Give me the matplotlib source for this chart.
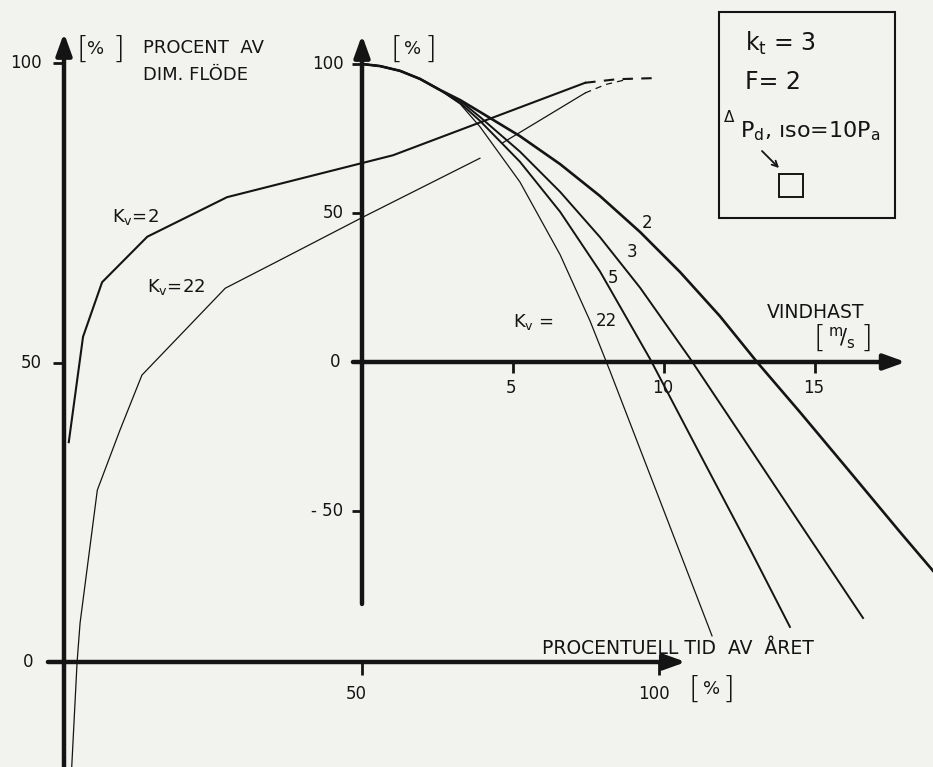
import numpy as np
import matplotlib.pyplot as plt
from matplotlib.patches import Rectangle

plt.rcParams['font.family'] = 'DejaVu Sans'

# left diagram: percent of design flow over percent of the year
kv2_time = [0.8, 3.2, 6.4, 14.0, 27.4, 55.3, 87.6]
kv2_flow = [36.7, 54.3, 63.4, 71.0, 77.6, 84.6, 96.7]
kv2_dash_time = [87.6, 93.0, 100.0]
kv2_dash_flow = [96.7, 97.3, 97.5]

kv22_time = [1.3, 2.2, 2.7, 5.6, 9.4, 13.1, 27.1, 36.3, 50.3, 69.9, 71.8, 73.6, 87.6]
kv22_flow = [-17.5, 0.0, 6.5, 28.7, 38.7, 47.9, 62.4, 67.1, 74.3, 84.1, np.nan, 86.6, 95.0]
kv22_dash_time = [87.6, 91.0, 95.2]
kv22_dash_flow = [95.0, 96.4, 97.4]

# right diagram: percent of flow over wind speed, one curve per K_v
kv_values = ['2', '3', '5', '22']
speed_start = [0, 0.6, 1.26, 1.92, 2.58]
flow_start = [100, 99.3, 97.7, 95.0, 91.3]

speed_kv2 = [3.25, 3.91, 5.23, 6.56, 7.88, 9.21, 10.53, 11.85, 13.08, 14.50,
             16.16, 17.81, 18.91]
flow_kv2 = [87.9, 83.9, 75.8, 66.4, 55.7, 43.6, 30.2, 15.4, 0.0, -16.8,
            -36.9, -57.0, -70.1]
speed_kv3 = [3.25, 3.91, 5.23, 6.56, 7.88, 9.21, 10.86, 12.52, 14.50, 16.59]
flow_kv3 = [87.6, 82.2, 70.6, 57.1, 41.9, 24.9, 1.2, -24.0, -54.2, -85.9]
speed_kv5 = [3.25, 3.91, 5.23, 6.56, 7.88, 9.54, 11.19, 12.85, 14.17]
flow_kv5 = [86.9, 80.9, 67.2, 50.4, 30.4, 1.0, -30.9, -62.8, -88.9]
speed_kv22 = [3.25, 3.91, 5.23, 6.56, 7.55, 8.21, 9.87, 11.59]
flow_kv22 = [86.6, 78.9, 60.4, 36.0, 13.8, -3.0, -46.6, -91.9]

left_yticks = [0, 50, 100]
left_xticks = [50, 100]
right_yticks = [-50, 0, 50, 100]
right_xticks = [5, 10, 15]

INK = '#141414'
W, H = 933, 767

fig = plt.figure(figsize=(W / 100, H / 100), dpi=100)
fig.patch.set_facecolor('#f2f2ef')


def frame(x0, sx, y0, sy):
    # axes spanning the page, origin at pixel (x0, y0), sx/sy pixels per unit
    ax = fig.add_axes([0, 0, 1, 1])
    ax.set_xlim(-x0 / sx, (W - x0) / sx)
    ax.set_ylim(-(H - y0) / sy, y0 / sy)
    ax.axis('off')
    ax.patch.set_alpha(0)
    return ax


def arrow_axis(ax, start, tip):
    ax.annotate('', xy=tip, xytext=start,
                arrowprops=dict(arrowstyle='-|>,head_length=1.3,head_width=0.47',
                                mutation_scale=10, lw=3.2, color=INK,
                                shrinkA=0, shrinkB=0))


ax_l = frame(64, 5.95, 662, 5.99)
ax_r = frame(362, 30.2, 362, 2.98)
page = fig.add_axes([0, 0, 1, 1])
page.set_xlim(0, W)
page.set_ylim(H, 0)
page.axis('off')
page.patch.set_alpha(0)

# ---- left diagram ----
arrow_axis(ax_l, (0, -19), (0, 105.0))
arrow_axis(ax_l, (-2.7, 0), (104.5, 0))
for v in left_yticks[1:]:
    ax_l.plot([-1.9, 0], [v, v], color=INK, lw=2, solid_capstyle='butt')
    ax_l.text(-3.8, v, str(v), fontsize=12, ha='right', va='center', color=INK)
ax_l.text(-5.2, 0, '0', fontsize=12, ha='right', va='center', color=INK)
for v in left_xticks:
    ax_l.plot([v, v], [0, -2.2], color=INK, lw=2, solid_capstyle='butt')
    ax_l.text(v - 0.8, -5.3, str(v), fontsize=12, ha='center', va='center', color=INK)

ax_l.plot(kv2_time, kv2_flow, color=INK, lw=1.5)
ax_l.plot(kv2_dash_time, kv2_dash_flow, color=INK, lw=1.5, dashes=(5, 4))
ax_l.plot(kv22_time, kv22_flow, color=INK, lw=0.9)
ax_l.plot(kv22_dash_time, kv22_dash_flow, color=INK, lw=0.9, dashes=(5, 4))

ax_l.text(8.0, 74.3, r'K$_\mathregular{v}$=2', fontsize=13, va='center', color=INK)
ax_l.text(14.0, 62.6, r'K$_\mathregular{v}$=22', fontsize=13, va='center', color=INK)

# ---- right diagram ----
arrow_axis(ax_r, (0, -81.2), (0, 109.7))
arrow_axis(ax_r, (-0.3, 0), (18.0, 0))
for v in right_yticks:
    if v != 0:
        ax_r.plot([-0.33, 0], [v, v], color=INK, lw=2, solid_capstyle='butt')
    label = '- 50' if v < 0 else str(v)
    ax_r.text(-0.62 if v != 0 else -0.7, v, label, fontsize=12, ha='right',
              va='center', color=INK)
for v in right_xticks:
    ax_r.plot([v, v], [0, -3.6], color=INK, lw=2, solid_capstyle='butt')
    ax_r.text(v - 0.05, -8.7, str(v), fontsize=12, ha='center', va='center', color=INK)

curves = [(speed_kv2, flow_kv2, 1.9), (speed_kv3, flow_kv3, 1.4),
          (speed_kv5, flow_kv5, 1.4), (speed_kv22, flow_kv22, 0.9)]
for speed, flow, lw in curves:
    ax_r.plot(speed_start + speed, flow_start + flow, color=INK, lw=lw,
              solid_joinstyle='round')

label_pos = [(9.45, 46.5), (8.95, 37.0), (8.3, 28.3), (8.1, 13.6)]
for kv, (x, y) in zip(kv_values, label_pos):
    ax_r.text(x, y, kv, fontsize=12, ha='center', va='center', color=INK)
ax_r.text(5.0, 13.4, r'K$_\mathregular{v}$ =', fontsize=13, va='center', color=INK)


# ---- headings, units and the parameter box ----
def bracketed(x_left, x_mid, x_right, y, inner, size):
    page.text(x_left, y, '[', fontsize=22, ha='center', va='center', color=INK,
              fontweight='light')
    page.text(x_mid, y, inner, fontsize=size, ha='center', va='center', color=INK)
    page.text(x_right, y, ']', fontsize=22, ha='center', va='center', color=INK,
              fontweight='light')


bracketed(82, 96, 119, 49, '%', 13)
page.text(143, 48, 'PROCENT  AV', fontsize=13, va='center', color=INK)
page.text(143, 75, 'DIM. FLÖDE', fontsize=13, va='center', color=INK)
bracketed(396, 413, 431, 49, '%', 13)
bracketed(694, 712, 729, 689, '%', 13)
page.text(542, 648, 'PROCENTUELL TID  AV  ÅRET', fontsize=13.5, va='center', color=INK)
page.text(767, 312, 'VINDHAST', fontsize=13.5, va='center', color=INK)
bracketed(819, 842, 866, 338, r'$^\mathregular{m}\!/_\mathregular{s}$', 15)

page.add_patch(Rectangle((719, 12), 176, 206, fill=False, lw=1.5, ec=INK))
page.text(745, 43, r'k$_\mathregular{t}$ = 3', fontsize=17, va='center', color=INK)
page.text(745, 82, 'F= 2', fontsize=17, va='center', color=INK)
page.text(729, 118, 'Δ', fontsize=11, ha='center', va='center', color=INK)
page.text(740, 131, r'P$_\mathregular{d}$, ıso=10P$_\mathregular{a}$', fontsize=16,
          va='center', color=INK)
page.annotate('', xy=(779, 168), xytext=(762, 151),
              arrowprops=dict(arrowstyle='->', lw=1.3, color=INK, shrinkA=0, shrinkB=0))
page.add_patch(Rectangle((779, 174), 24, 23, fill=False, lw=1.4, ec=INK))

fig.savefig('out.png', dpi=100, facecolor=fig.get_facecolor())
